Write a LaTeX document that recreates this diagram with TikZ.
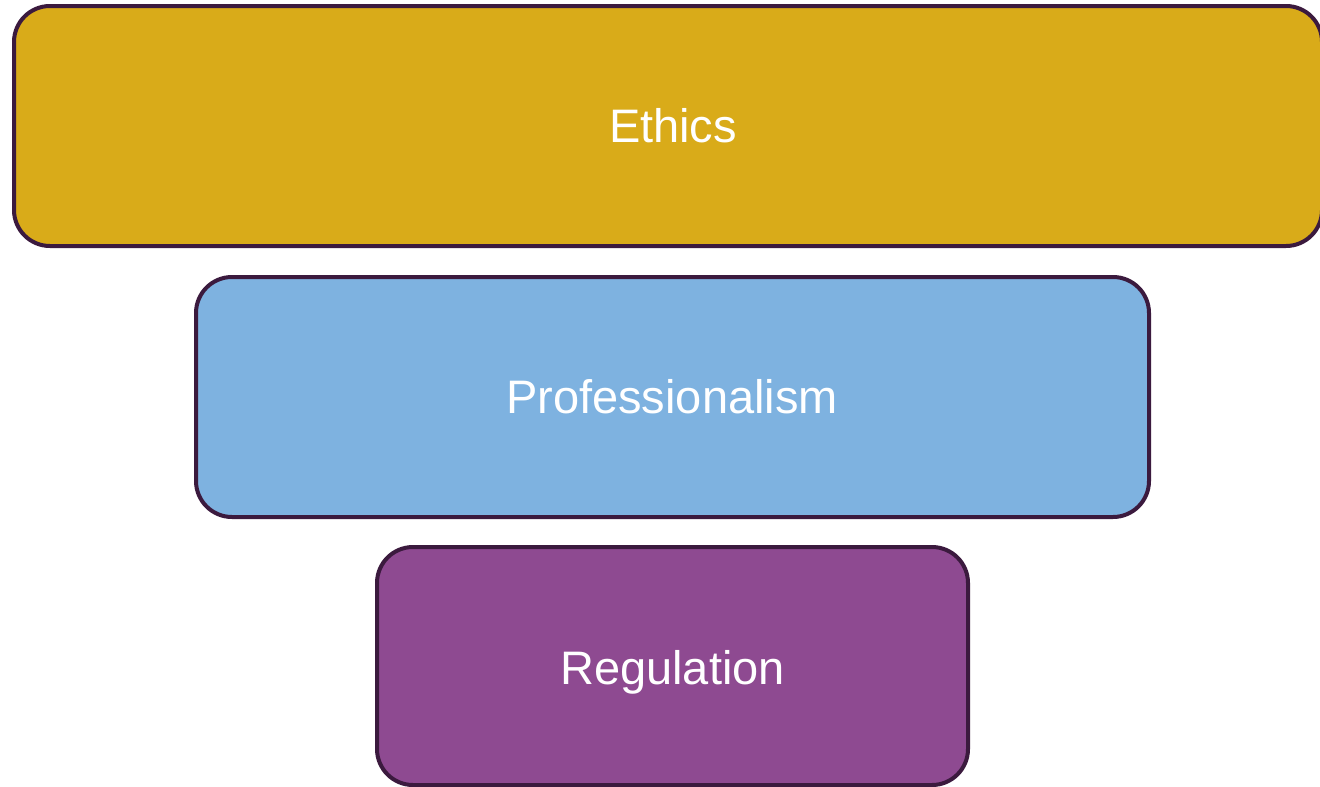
\documentclass[tikz,border=0pt]{standalone}
\usepackage{fontspec}
\setmainfont{Liberation Sans}
\definecolor{edgec}{HTML}{3B1A3E}
\definecolor{ethc}{HTML}{D9AB19}
\definecolor{proc}{HTML}{7EB2E0}
\definecolor{regc}{HTML}{8E4A91}
\tikzset{
  layer/.style={draw=edgec, line width=4pt, rounded corners=36pt},
  lbl/.style={text=white, font=\fontsize{47}{56}\selectfont, anchor=base, inner sep=0pt}
}
\begin{document}
\begin{tikzpicture}[x=1pt,y=-1pt]
\useasboundingbox (0,0) rectangle (1320,787);
\clip (0,0) rectangle (1320,787);
\fill[white] (0,0) rectangle (1320,787);
\draw[layer, fill=ethc] (14,6) rectangle (1322,246);
\draw[layer, fill=proc] (196,277) rectangle (1149,517);
\draw[layer, fill=regc] (377,547) rectangle (968,785);
\node[lbl] (eth) at (673,142) {Ethics};
\node[lbl] (pro) at (672,413) {Professionalism};
\node[lbl] (reg) at (672.5,684) {Regulation};
\end{tikzpicture}
\end{document}
